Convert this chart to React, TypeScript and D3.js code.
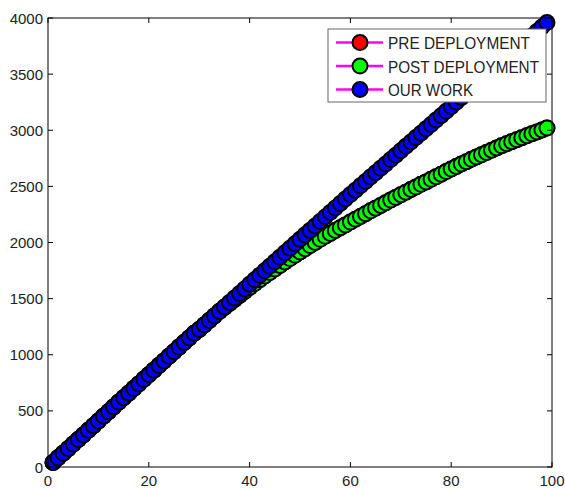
import React from "react";
import * as d3 from "d3";

const xValues: number[] = Array.from({ length: 99 }, (_, i) => i + 1);

const ourWork: number[] = [
  41, 82, 122, 163, 204, 245, 286, 327, 368, 410,
  452, 493, 535, 576, 617, 658, 699, 740, 781, 822,
  863, 904, 945, 986, 1027, 1068, 1109, 1150, 1191, 1225,
  1266, 1306, 1346, 1386, 1426, 1466, 1506, 1546, 1586, 1628,
  1668, 1708, 1748, 1788, 1828, 1868, 1908, 1948, 1988, 2028,
  2068, 2108, 2148, 2188, 2228, 2268, 2308, 2348, 2388, 2427,
  2466, 2505, 2544, 2583, 2622, 2661, 2700, 2739, 2778, 2818,
  2857, 2896, 2935, 2974, 3013, 3052, 3091, 3130, 3169, 3210,
  3250, 3290, 3329, 3368, 3407, 3446, 3485, 3524, 3563, 3602,
  3642, 3681, 3720, 3760, 3800, 3840, 3880, 3920, 3960,
];

const postDeployment: number[] = [
  41, 82, 122, 163, 204, 245, 286, 327, 368, 410,
  452, 493, 535, 576, 617, 658, 699, 740, 781, 822,
  863, 904, 945, 986, 1027, 1068, 1109, 1150, 1191, 1225,
  1266, 1306, 1346, 1386, 1420, 1456, 1492, 1528, 1564, 1600,
  1634, 1668, 1701, 1733, 1765, 1796, 1827, 1857, 1887, 1916,
  1945, 1973, 2001, 2028, 2055, 2081, 2107, 2132, 2157, 2182,
  2207, 2232, 2257, 2282, 2306, 2330, 2354, 2378, 2402, 2426,
  2448, 2472, 2494, 2518, 2540, 2563, 2586, 2608, 2632, 2655,
  2677, 2699, 2720, 2741, 2762, 2782, 2802, 2822, 2842, 2861,
  2880, 2898, 2916, 2934, 2951, 2968, 2985, 3002, 3020,
];

const preDeployment: number[] = [...postDeployment];

const xTicks: number[] = [0, 20, 40, 60, 80, 100];
const yTicks: number[] = [0, 500, 1000, 1500, 2000, 2500, 3000, 3500, 4000];

const seriesNames: string[] = ["PRE DEPLOYMENT", "POST DEPLOYMENT", "OUR WORK"];
const seriesColors: string[] = ["#ff0000", "#00ff00", "#0000ff"];
const seriesData: number[][] = [preDeployment, postDeployment, ourWork];
const legendTextWidths: number[] = [142, 151, 85];

const W = 565;
const H = 488;
const left = 48;
const right = 552;
const top = 18;
const bottom = 467;

export default function App() {
  const x = d3.scaleLinear().domain([0, 100]).range([left, right]);
  const y = d3.scaleLinear().domain([0, 4000]).range([bottom, top]);
  const line = d3
    .line<number>()
    .x((_, i) => x(xValues[i]))
    .y((d) => y(d));
  const font = "'Liberation Sans', Arial, sans-serif";
  const tickLen = 5;

  const legX = 328;
  const legY = 29;
  const legW = 218;
  const legH = 73;
  const rowY = [42.5, 66, 89.5];

  return (
    <div style={{ position: "fixed", left: 0, top: 0, width: W, height: H, background: "#fff" }}>
      <svg width={W} height={H} style={{ display: "block" }}>
        <rect x={0} y={0} width={W} height={H} fill="#fff" />
        {seriesData.map((data, si) => (
          <g key={si}>
            <path d={line(data) || ""} fill="none" stroke="#ff00ff" strokeWidth={2} />
            {data.map((v, i) => (
              <circle
                key={i}
                cx={x(xValues[i])}
                cy={y(v)}
                r={7.5}
                fill={seriesColors[si]}
                stroke="#000"
                strokeWidth={2}
              />
            ))}
          </g>
        ))}
        <rect x={left} y={top} width={right - left} height={bottom - top} fill="none" stroke="#000" strokeWidth={1} />
        {xTicks.map((t) => (
          <g key={"x" + t}>
            <line x1={x(t)} x2={x(t)} y1={bottom} y2={bottom - tickLen} stroke="#000" />
            <line x1={x(t)} x2={x(t)} y1={top} y2={top + tickLen} stroke="#000" />
            <text x={x(t)} y={486} textAnchor="middle" fontFamily={font} fontSize={15} fill="#222">
              {t}
            </text>
          </g>
        ))}
        {yTicks.map((t) => (
          <g key={"y" + t}>
            <line x1={left} x2={left + tickLen} y1={y(t)} y2={y(t)} stroke="#000" />
            <line x1={right} x2={right - tickLen} y1={y(t)} y2={y(t)} stroke="#000" />
            <text x={43} y={y(t) + 5.5} textAnchor="end" fontFamily={font} fontSize={15} fill="#222">
              {t}
            </text>
          </g>
        ))}
        <rect x={legX} y={legY} width={legW} height={legH} fill="#fff" stroke="#666" strokeWidth={1} />
        {seriesNames.map((name, i) => (
          <g key={name}>
            <line x1={336} x2={383} y1={rowY[i]} y2={rowY[i]} stroke="#ff00ff" strokeWidth={2.5} />
            <circle cx={360} cy={rowY[i]} r={7.5} fill={seriesColors[i]} stroke="#000" strokeWidth={2} />
            <text
              x={388}
              y={rowY[i] + 6.5}
              fontFamily={font}
              fontSize={17}
              fill="#222"
              textLength={legendTextWidths[i]}
              lengthAdjust="spacingAndGlyphs"
            >
              {name}
            </text>
          </g>
        ))}
      </svg>
    </div>
  );
}
